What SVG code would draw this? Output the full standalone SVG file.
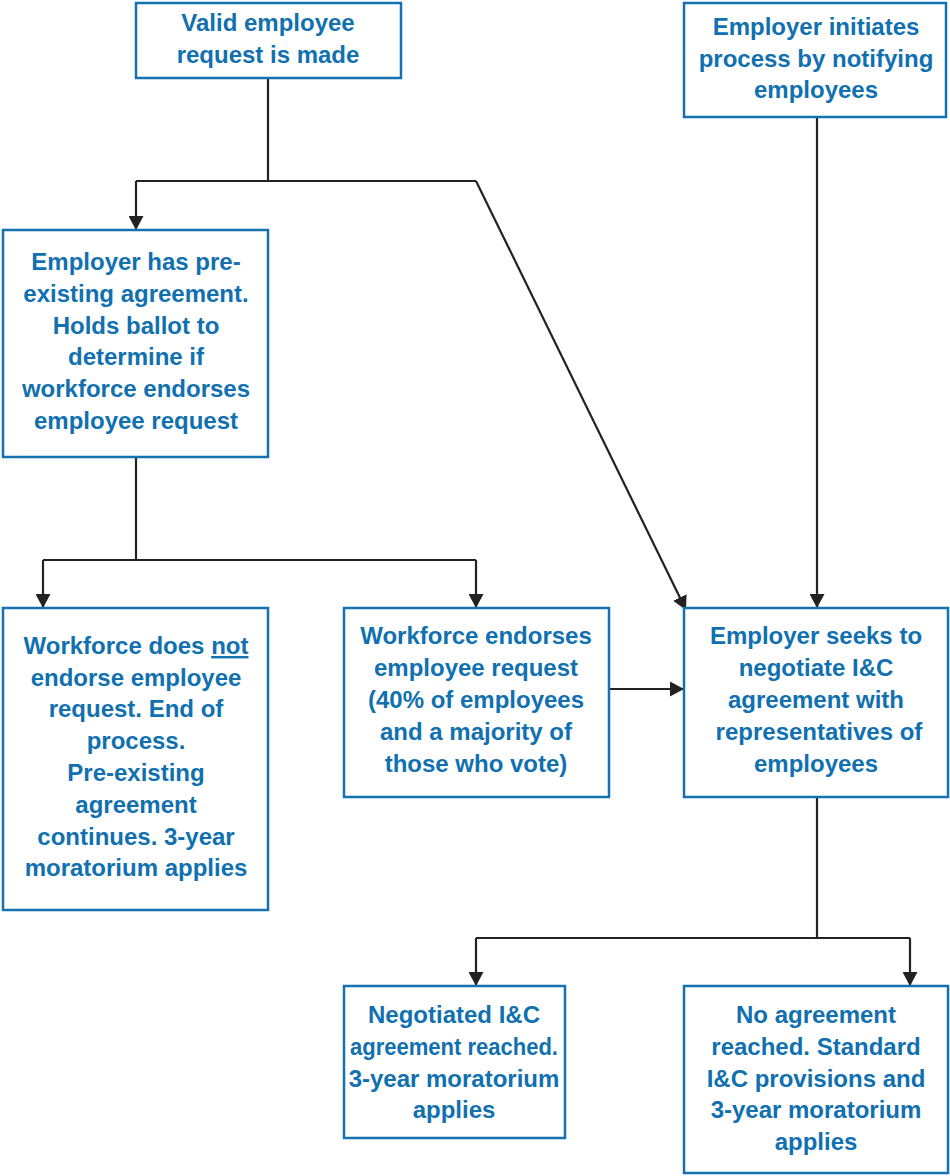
<svg xmlns="http://www.w3.org/2000/svg" width="950" height="1176" viewBox="0 0 950 1176">
<defs>
<style>
.box{fill:#fff;stroke:#1572b0;stroke-width:2.5}
.t{font-family:"Liberation Sans",Arial,sans-serif;font-weight:bold;font-size:24px;fill:#1070b0;text-anchor:middle}
.c{fill:none;stroke:#222;stroke-width:2.2}
</style>
<marker id="ah" viewBox="0 0 14 15" refX="14" refY="7.5" markerWidth="14" markerHeight="15" markerUnits="userSpaceOnUse" orient="auto">
<path d="M0,0 L14,7.5 L0,15 Z" fill="#222"/>
</marker>
</defs>
<rect width="950" height="1176" fill="#fff"/>
<g id="connectors">
<path class="c" d="M268,78 V181"/>
<path class="c" d="M136,181 H476" />
<path class="c" d="M136,181 V230" marker-end="url(#ah)"/>
<path class="c" d="M476,181 L686,610" marker-end="url(#ah)"/>
<path class="c" d="M817,117 V608" marker-end="url(#ah)"/>
<path class="c" d="M136,457 V560"/>
<path class="c" d="M43,560 H476"/>
<path class="c" d="M43,560 V608" marker-end="url(#ah)"/>
<path class="c" d="M476,560 V608" marker-end="url(#ah)"/>
<path class="c" d="M609,689 H684" marker-end="url(#ah)"/>
<path class="c" d="M817,797 V938"/>
<path class="c" d="M476,938 H910"/>
<path class="c" d="M476,938 V986" marker-end="url(#ah)"/>
<path class="c" d="M910,938 V986" marker-end="url(#ah)"/>
</g>
<g id="n1">
<rect class="box" x="136" y="3" width="265" height="75"/>
<text class="t"><tspan x="268" y="31">Valid employee</tspan><tspan x="268" y="63">request is made</tspan></text>
</g>
<g id="n2">
<rect class="box" x="684" y="3" width="262" height="114"/>
<text class="t"><tspan x="816" y="35">Employer initiates</tspan><tspan x="816" y="67">process by notifying</tspan><tspan x="816" y="98">employees</tspan></text>
</g>
<g id="n3">
<rect class="box" x="3" y="230" width="265" height="227"/>
<text class="t"><tspan x="136" y="270">Employer has pre-</tspan><tspan x="136" y="302">existing agreement.</tspan><tspan x="136" y="334">Holds ballot to</tspan><tspan x="136" y="365">determine if</tspan><tspan x="136" y="397">workforce endorses</tspan><tspan x="136" y="429">employee request</tspan></text>
</g>
<g id="n4">
<rect class="box" x="3" y="608" width="265" height="302"/>
<text class="t"><tspan x="136" y="654">Workforce does <tspan text-decoration="underline">not</tspan></tspan><tspan x="136" y="686">endorse employee</tspan><tspan x="136" y="717">request. End of</tspan><tspan x="136" y="749">process.</tspan><tspan x="136" y="781">Pre-existing</tspan><tspan x="136" y="813">agreement</tspan><tspan x="136" y="845">continues. 3-year</tspan><tspan x="136" y="876">moratorium applies</tspan></text>
</g>
<g id="n5">
<rect class="box" x="344" y="608" width="265" height="189"/>
<text class="t"><tspan x="476" y="644">Workforce endorses</tspan><tspan x="476" y="676">employee request</tspan><tspan x="476" y="708">(40% of employees</tspan><tspan x="476" y="740">and a majority of</tspan><tspan x="476" y="772">those who vote)</tspan></text>
</g>
<g id="n6">
<rect class="box" x="684" y="608" width="264" height="189"/>
<text class="t"><tspan x="816" y="644">Employer seeks to</tspan><tspan x="816" y="676">negotiate I&amp;C</tspan><tspan x="816" y="708">agreement with</tspan><tspan x="819" y="740">representatives of</tspan><tspan x="816" y="772">employees</tspan></text>
</g>
<g id="n7">
<rect class="box" x="344" y="986" width="221" height="152"/>
<text class="t"><tspan x="454" y="1023">Negotiated I&amp;C</tspan><tspan x="454" y="1055" textLength="208" lengthAdjust="spacingAndGlyphs">agreement reached.</tspan><tspan x="454" y="1087">3-year moratorium</tspan><tspan x="454" y="1118">applies</tspan></text>
</g>
<g id="n8">
<rect class="box" x="684" y="986" width="264" height="187"/>
<text class="t"><tspan x="816" y="1023">No agreement</tspan><tspan x="816" y="1055">reached. Standard</tspan><tspan x="816" y="1087">I&amp;C provisions and</tspan><tspan x="816" y="1118">3-year moratorium</tspan><tspan x="816" y="1150">applies</tspan></text>
</g>
</svg>
